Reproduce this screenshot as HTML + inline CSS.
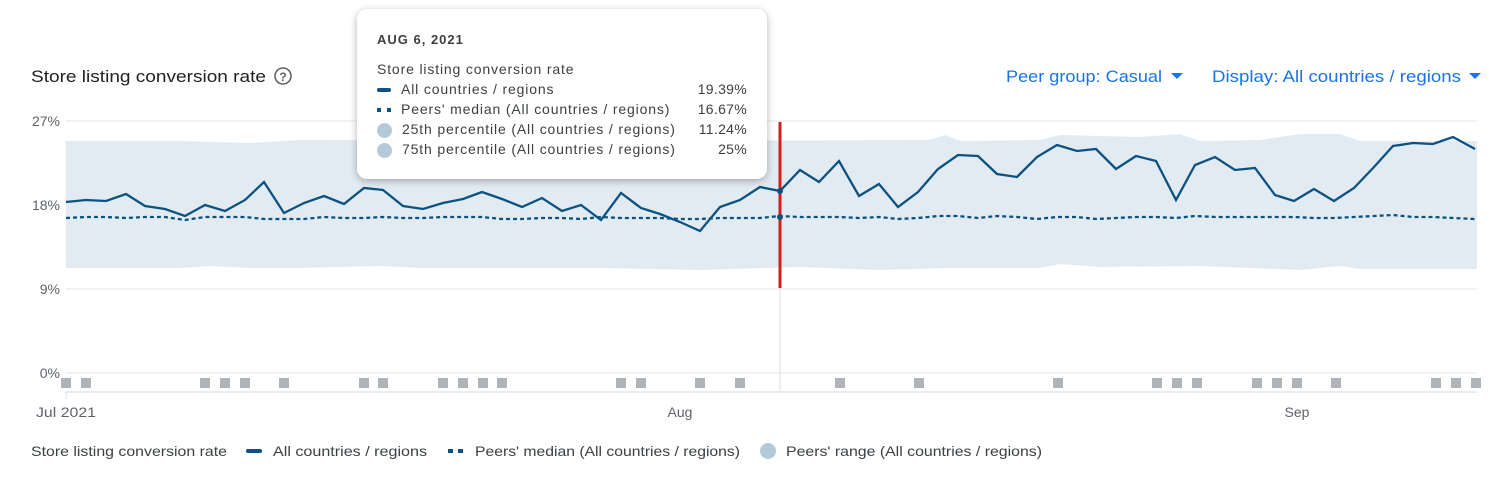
<!DOCTYPE html>
<html><head><meta charset="utf-8"><style>
body{margin:0;background:#fff;width:1503px;height:478px;overflow:hidden;font-family:"Liberation Sans",sans-serif;}
svg{position:absolute;left:0;top:0}
.tt{position:absolute;left:357px;top:9px;width:410px;height:170px;background:#fff;border-radius:10px;box-shadow:0 2px 8px rgba(0,0,0,.3);font-size:14px;color:#3c4043}
.tt .r{position:absolute;left:20px;right:20px;height:20px;letter-spacing:0.85px}
.tt .v{position:absolute;right:0;top:0;letter-spacing:0.3px}
</style></head><body>
<svg width="1503" height="478" xmlns="http://www.w3.org/2000/svg" font-family="Liberation Sans, sans-serif">
<text x="31" y="82" font-size="17" fill="#202124" textLength="235" lengthAdjust="spacingAndGlyphs">Store listing conversion rate</text>
<circle cx="283" cy="76" r="8" fill="none" stroke="#5f6368" stroke-width="1.6"/>
<text x="283" y="81" font-size="12" fill="#5f6368" text-anchor="middle" font-weight="bold">?</text>
<text x="1006" y="82" font-size="17" fill="#1a73e8" textLength="156" lengthAdjust="spacingAndGlyphs">Peer group: Casual</text>
<path d="M1171 73 l12 0 l-6 6z" fill="#1a73e8"/>
<text x="1212" y="82" font-size="17" fill="#1a73e8" textLength="249" lengthAdjust="spacingAndGlyphs">Display: All countries / regions</text>
<path d="M1469 73 l12 0 l-6 6z" fill="#1a73e8"/>
<g stroke="#e8eaed" stroke-width="1.3">
<line x1="66" y1="121" x2="1477" y2="121"/><line x1="66" y1="205" x2="1477" y2="205"/><line x1="66" y1="289" x2="1477" y2="289"/><line x1="66" y1="373" x2="1477" y2="373"/>
</g>
<g font-size="14" fill="#5f6368" text-anchor="end">
<text x="60" y="126">27%</text><text x="60" y="210">18%</text><text x="60" y="294">9%</text><text x="60" y="378">0%</text>
</g>
<path d="M66 141 L180 141 L250 143 L300 140 L600 141 L930 140 L945 135 L960 141 L1040 140 L1060 135 L1140 137 L1180 134 L1200 141 L1260 140 L1300 134 L1340 134 L1360 141 L1477 141 L1477 269 L1360 269 L1340 266 L1300 270 L1200 266 L1100 267 L1060 264 L1040 268 L950 268 L880 270 L800 267 L700 270 L600 268 L420 268 L380 266 L300 268 L250 268 L210 266 L180 268 L66 268 Z" fill="#e3ebf2"/>
<line x1="780" y1="121" x2="780" y2="392" stroke="#dadce0"/>
<polyline fill="none" stroke="#0b5283" stroke-width="2.3" stroke-dasharray="4 3" points="66,218 86,217 106,217 126,218 145,217 165,217 185,220 205,217 225,217 245,217 264,219 284,219 304,219 324,217 344,218 364,218 383,217 403,218 423,218 443,217 463,217 482,217 502,219 522,219 542,218 562,218 581,219 601,217 621,218 641,218 660,218 680,219 700,219 720,218 740,218 760,218 780,216 800,217 819,217 839,217 859,218 879,217 898,219 918,218 938,216 958,216 978,218 997,216 1017,217 1037,219 1057,217 1077,217 1096,219 1116,218 1136,217 1156,217 1176,218 1195,216 1215,217 1235,217 1255,217 1275,217 1294,217 1314,218 1334,218 1354,217 1374,216 1393,215 1413,217 1433,217 1453,218 1475,219"/>
<polyline fill="none" stroke="#0b5283" stroke-width="2.3" points="66,202 86,200 106,201 126,194 145,206 165,209 185,216 205,205 225,211 245,200 264,182 284,213 304,203 324,196 344,204 364,188 383,190 403,206 423,209 443,203 463,199 482,192 502,199 522,207 542,198 562,211 581,205 601,220 621,193 641,208 660,214 680,222 700,231 720,207 740,200 760,187 780,191 800,170 819,182 839,161 859,196 879,184 898,207 918,192 938,169 958,155 978,156 997,174 1017,177 1037,157 1057,145 1077,151 1096,149 1116,169 1136,156 1156,161 1176,200 1195,165 1215,157 1235,170 1255,168 1275,195 1294,201 1314,189 1334,201 1354,188 1374,167 1393,146 1413,143 1433,144 1453,137 1475,149"/>
<line x1="780" y1="122" x2="780" y2="288" stroke="#d21f1f" stroke-width="3"/>
<circle cx="780" cy="191" r="3" fill="#0b5283"/><circle cx="780" cy="217" r="3" fill="#0b5283"/>
<g fill="#b0b3b8">
<rect x="61" y="378" width="10" height="10"/><rect x="81" y="378" width="10" height="10"/><rect x="200" y="378" width="10" height="10"/><rect x="220" y="378" width="10" height="10"/><rect x="240" y="378" width="10" height="10"/><rect x="279" y="378" width="10" height="10"/><rect x="359" y="378" width="10" height="10"/><rect x="378" y="378" width="10" height="10"/><rect x="438" y="378" width="10" height="10"/><rect x="458" y="378" width="10" height="10"/><rect x="478" y="378" width="10" height="10"/><rect x="497" y="378" width="10" height="10"/><rect x="616" y="378" width="10" height="10"/><rect x="636" y="378" width="10" height="10"/><rect x="695" y="378" width="10" height="10"/><rect x="735" y="378" width="10" height="10"/><rect x="835" y="378" width="10" height="10"/><rect x="914" y="378" width="10" height="10"/><rect x="1053" y="378" width="10" height="10"/><rect x="1152" y="378" width="10" height="10"/><rect x="1172" y="378" width="10" height="10"/><rect x="1192" y="378" width="10" height="10"/><rect x="1252" y="378" width="10" height="10"/><rect x="1272" y="378" width="10" height="10"/><rect x="1292" y="378" width="10" height="10"/><rect x="1331" y="378" width="10" height="10"/><rect x="1431" y="378" width="10" height="10"/><rect x="1451" y="378" width="10" height="10"/><rect x="1471" y="378" width="10" height="10"/>
</g>
<line x1="66" y1="392" x2="1477" y2="392" stroke="#e8eaed" stroke-width="2"/>
<line x1="66" y1="392" x2="66" y2="399" stroke="#dadce0"/>
<g font-size="14" fill="#5f6368" text-anchor="middle">
<text x="66" y="417" textLength="60" lengthAdjust="spacingAndGlyphs">Jul 2021</text><text x="680" y="417">Aug</text><text x="1297" y="417">Sep</text>
</g>
<g font-size="14" fill="#3c4043">
<text x="31" y="456" textLength="196" lengthAdjust="spacingAndGlyphs">Store listing conversion rate</text>
<rect x="246" y="449" width="16" height="4" rx="2" fill="#0b5283"/>
<text x="273" y="456" textLength="154" lengthAdjust="spacingAndGlyphs">All countries / regions</text>
<rect x="448" y="449" width="5" height="4" fill="#0b5283"/><rect x="458" y="449" width="5" height="4" fill="#0b5283"/>
<text x="475" y="456" textLength="265" lengthAdjust="spacingAndGlyphs">Peers' median (All countries / regions)</text>
<circle cx="768" cy="451" r="8" fill="#b4cada"/>
<text x="786" y="456" textLength="256" lengthAdjust="spacingAndGlyphs">Peers' range (All countries / regions)</text>
</g>
</svg>
<div class="tt">
<div style="position:absolute;left:20px;top:23px;font-size:13px;font-weight:bold;letter-spacing:1px;color:#3c4043">AUG 6, 2021</div>
<div class="r" style="top:52px">Store listing conversion rate</div>
<div class="r" style="top:72px"><span style="display:inline-block;width:14px;height:4px;border-radius:2px;background:#0b5283;vertical-align:middle;margin-right:10px"></span>All countries / regions<span class="v">19.39%</span></div>
<div class="r" style="top:92px"><span style="display:inline-block;width:4px;height:4px;background:#0b5283;vertical-align:middle;margin-right:6px"></span><span style="display:inline-block;width:4px;height:4px;background:#0b5283;vertical-align:middle;margin-right:10px"></span>Peers' median (All countries / regions)<span class="v">16.67%</span></div>
<div class="r" style="top:112px"><span style="display:inline-block;width:15px;height:15px;border-radius:50%;background:#b4cada;vertical-align:middle;margin-right:10px"></span>25th percentile (All countries / regions)<span class="v">11.24%</span></div>
<div class="r" style="top:132px"><span style="display:inline-block;width:15px;height:15px;border-radius:50%;background:#b4cada;vertical-align:middle;margin-right:10px"></span>75th percentile (All countries / regions)<span class="v">25%</span></div>
</div>
</body></html>
